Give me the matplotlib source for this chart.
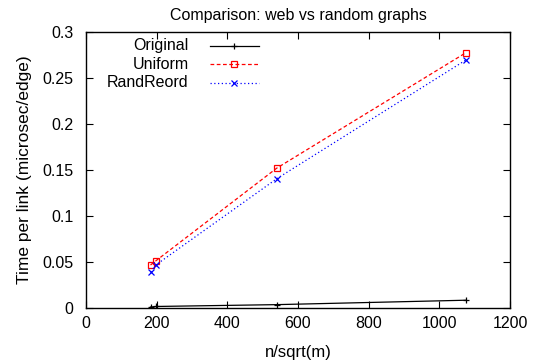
import matplotlib
matplotlib.use("Agg")
import matplotlib.pyplot as plt

plt.rcParams['font.family'] = ['Liberation Sans', 'DejaVu Sans']

# n/sqrt(m) for each graph
x_vals = [183, 199, 540, 1075]
original = [0.0010, 0.0016, 0.0036, 0.0084]
uniform = [0.0467, 0.0515, 0.1520, 0.2775]
randreord = [0.0390, 0.0470, 0.1405, 0.2696]

labels = ['Original', 'Uniform', 'RandReord']
colors = ['black', 'red', 'blue']
markers = ['+', 's', 'x']
styles = ['-', (0, (3, 2)), (0, (1, 2))]


def main():
    fig = plt.figure(figsize=(5.33, 3.64), dpi=100)
    ax = fig.add_axes([0.161, 0.154, 0.796, 0.758])

    series = [original, uniform, randreord]
    for ys, lab, c, m, ls in zip(series, labels, colors, markers, styles):
        mfc = 'none' if m == 's' else c
        ax.plot(x_vals, ys, color=c, linestyle=ls, linewidth=0.9,
                marker=m, markersize=4.5, markerfacecolor=mfc,
                markeredgecolor=c, markeredgewidth=0.9)

    # gnuplot-style key: label on the left, sample on the right
    key_y = [0.950, 0.883, 0.816]
    for yy, lab, c, m, ls in zip(key_y, labels, colors, markers, styles):
        ax.text(0.242, yy, lab, transform=ax.transAxes, ha='right',
                va='center', fontsize=11.5)
        ax.plot([0.292, 0.408], [yy, yy], transform=ax.transAxes,
                color=c, linestyle=ls, linewidth=0.9)
        ax.plot([0.349], [yy], transform=ax.transAxes, color=c,
                marker=m, markersize=4.5,
                markerfacecolor='none' if m == 's' else c,
                markeredgewidth=0.9)

    ax.set_xlim(0, 1200)
    ax.set_ylim(0, 0.3)
    ax.set_xticks(range(0, 1201, 200))
    ax.set_yticks([0, 0.05, 0.1, 0.15, 0.2, 0.25, 0.3])
    ax.set_yticklabels(['0', '0.05', '0.1', '0.15', '0.2', '0.25', '0.3'])
    ax.tick_params(direction='in', top=True, right=True, length=5,
                   width=0.8, labelsize=11.5)
    ax.tick_params(axis='x', pad=6)
    ax.tick_params(axis='y', pad=9)
    for sp in ax.spines.values():
        sp.set_linewidth(1.0)

    ax.set_xlabel('n/sqrt(m)', fontsize=12, labelpad=10)
    ax.set_ylabel('Time per link (microsec/edge)', fontsize=12.5, labelpad=7)
    ax.set_title('Comparison: web vs random graphs', fontsize=11.5, pad=9)

    fig.savefig('out.png', dpi=100)


if __name__ == '__main__':
    main()
